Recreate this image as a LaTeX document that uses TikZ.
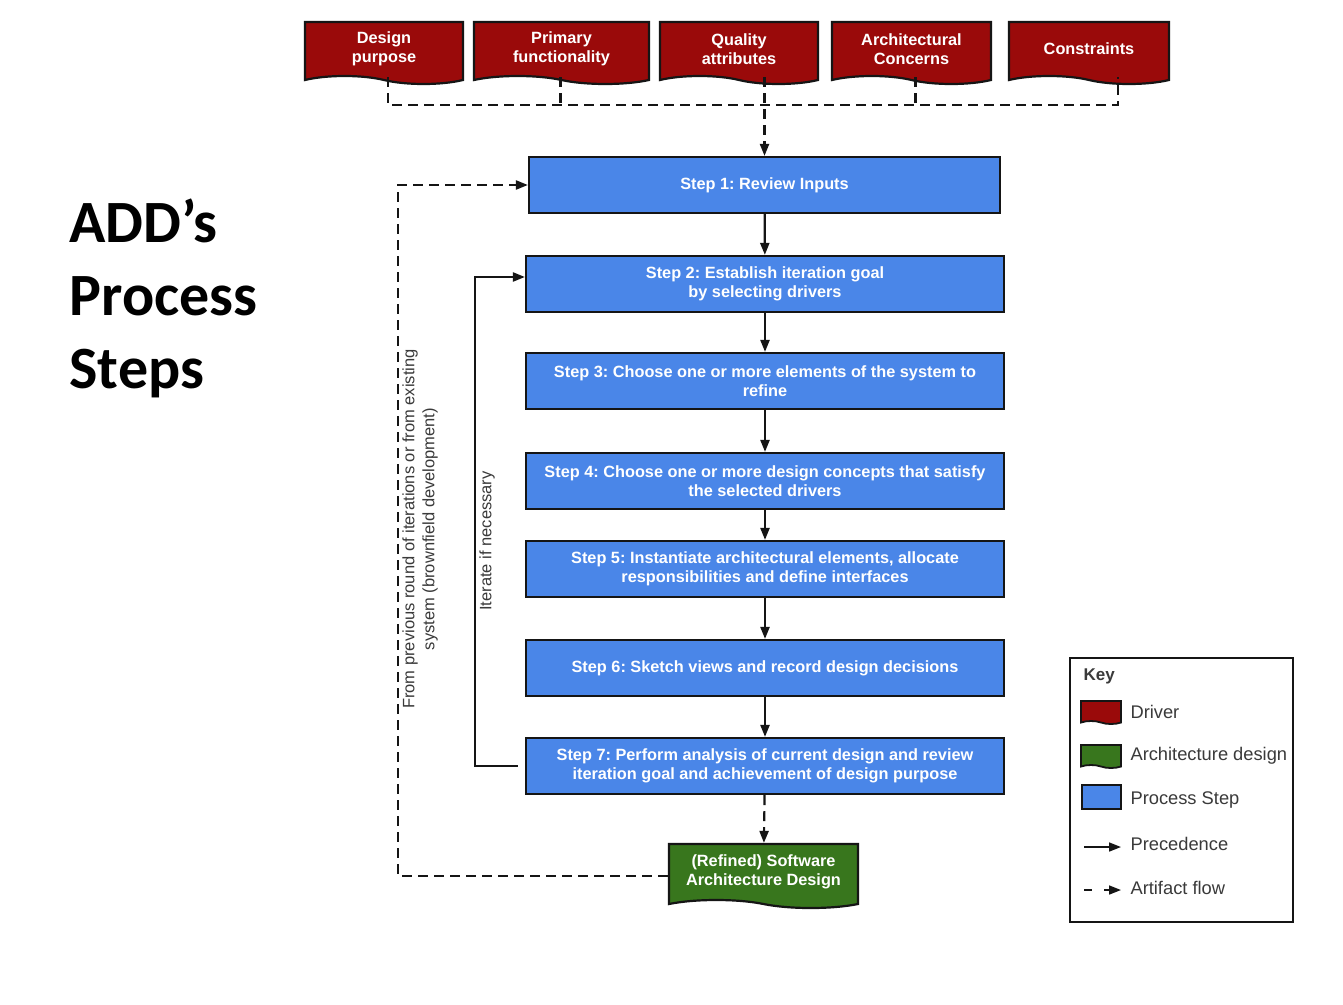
\documentclass[tikz,border=0pt]{standalone}
\usepackage{fontspec}
\setmainfont{Liberation Sans}
\newfontfamily\titlefont{Carlito}
\usetikzlibrary{arrows.meta,positioning,shapes.symbols}
\definecolor{drvred}{HTML}{9A0A0A}
\definecolor{stepblue}{HTML}{4A86E8}
\definecolor{archgreen}{HTML}{38761D}
\definecolor{edge}{HTML}{151515}
\definecolor{muted}{HTML}{3A3A3A}
\frenchspacing

\begin{document}
\begin{tikzpicture}[x=1pt,y=-1pt, every node/.style={font=\fontsize{16.3}{19.5}\selectfont\bfseries,align=center},
  doc/.style={shape=tape,tape bend top=none,tape bend bottom=out and in,tape bend height=8pt,draw=edge,line width=2.2pt,text=white,inner sep=0pt},
  drv/.style={doc,fill=drvred,minimum width=158pt,minimum height=62pt},
  s/.style={draw=edge,line width=2.2pt,fill=stepblue,text=white,minimum width=478pt,minimum height=56pt,inner sep=0pt},
  a/.style={-{Triangle[length=12pt,width=9pt]},line width=2.2pt,draw=edge},
  af/.style={line width=2.2pt,draw=edge,dash pattern=on 10pt off 6pt},
  side/.style={font=\fontsize{16.5}{20}\selectfont,text=muted,rotate=90},
  keytxt/.style={font=\fontsize{18.3}{21}\selectfont,text=muted,anchor=west}]
  \useasboundingbox[fill=white] (0,0) rectangle (1343,1004);
  % title
  \node[font=\titlefont\fontsize{60}{73}\selectfont\bfseries,align=left,anchor=north west] (title) at (66,195) {ADD’s\\Process\\Steps};
  % drivers
  \node[drv] (dp) at (384,49) {Design\\purpose};
  \node[drv,minimum width=175pt] (pf) at (561.5,49) {Primary\\functionality};
  \node[drv] (qa) at (739,49) {Quality\\attributes};
  \node[drv,minimum width=159pt] (ac) at (911.5,49) {Architectural\\Concerns};
  \node[drv,minimum width=160pt] (con) at (1089,49) {Constraints};
  % steps
  \node[s,minimum width=471pt] (s1) at (764.5,185) {Step 1: Review Inputs};
  \node[s] (s2) at (765,284) {Step 2: Establish iteration goal\\by selecting drivers};
  \node[s] (s3) at (765,381) {Step 3: Choose one or more elements of the system to\\refine};
  \node[s] (s4) at (765,481) {Step 4: Choose one or more design concepts that satisfy\\the selected drivers};
  \node[s] (s5) at (765,569) {Step 5: Instantiate architectural elements, allocate\\responsibilities and define interfaces};
  \node[s] (s6) at (765,668) {Step 6: Sketch views and record design decisions};
  \node[s] (s7) at (765,766) {Step 7: Perform analysis of current design and review\\iteration goal and achievement of design purpose};
  \node[doc,fill=archgreen,minimum width=189pt,minimum height=64pt] (sad) at (763.5,872) {(Refined) Software\\Architecture Design};
  % driver inputs
  \coordinate (bus) at (765,105);
  \draw[af] ([xshift=4pt]dp.south) |- ([xshift=29pt]con.south |- bus) -- ([xshift=29pt]con.south);
  \draw[af] ([xshift=-1pt]pf.south) -- ([xshift=-1pt]pf.south |- bus);
  \draw[af] ([xshift=4pt]ac.south) -- ([xshift=4pt]ac.south |- bus);
  \draw[af,-{Triangle[length=12pt,width=9pt]}] (qa.south -| s1.north) -- (s1.north);
  % precedence
  \foreach \i/\j in {s1/s2,s2/s3,s3/s4,s4/s5,s5/s6,s6/s7}
    \draw[a] (\i) -- (\j);
  \draw[af,-{Triangle[length=12pt,width=9pt]}] (s7) -- (sad);
  % loops
  \coordinate (itr) at (475,0);
  \coordinate (brn) at (398,0);
  \draw[a] ([xshift=-7pt]s7.west) -- (s7.west -| itr) |- ([yshift=7pt]s2.west);
  \node[side] (itrlbl) at (487,541) {Iterate if necessary};
  \draw[af,-{Triangle[length=12pt,width=9pt]}] ([yshift=-4pt]sad.west) -| (brn |- s1.west) -- (s1.west);
  \node[side] (brnlbl) at (420,529) {From previous round of iterations or from existing\\system (brownfield development)};
  % key
  \node[draw=edge,line width=2pt,minimum width=223pt,minimum height=264pt] (key) at (1181.5,790) {};
  \node[anchor=west,font=\fontsize{17}{19}\selectfont\bfseries,text=muted] (keyhd) at (1080,676) {Key};
  \node[doc,fill=drvred,minimum width=40pt,minimum height=23pt,tape bend height=3pt,line width=1.8pt] (kdrv) at (1101,711) {};
  \node[doc,fill=archgreen,minimum width=40pt,minimum height=23pt,tape bend height=3pt,line width=1.8pt] (karc) at (1101,755) {};
  \node[draw=edge,line width=1.8pt,fill=stepblue,minimum width=39pt,minimum height=24pt,inner sep=0pt] (kstp) at (1101.5,797) {};
  \node[keytxt] (kdrvl) at (1127,712) {Driver};
  \node[keytxt] (karcl) at (1127,756) {Architecture design};
  \node[keytxt] (kstpl) at (1127,800) {Process Step};
  \node[keytxt] (kprel) at (1127,844) {Precedence};
  \node[keytxt] (kartl) at (1127,888) {Artifact flow};
  \coordinate (kp1) at (1084,847);
  \coordinate (kp2) at (1121,847);
  \coordinate (ka1) at (1084,890);
  \coordinate (ka2) at (1121,890);
  \draw[a,line width=1.6pt] (kp1) -- (kp2);
  \draw[a,line width=1.6pt,dash pattern=on 8pt off 12pt] (ka1) -- (ka2);
\end{tikzpicture}
\end{document}
